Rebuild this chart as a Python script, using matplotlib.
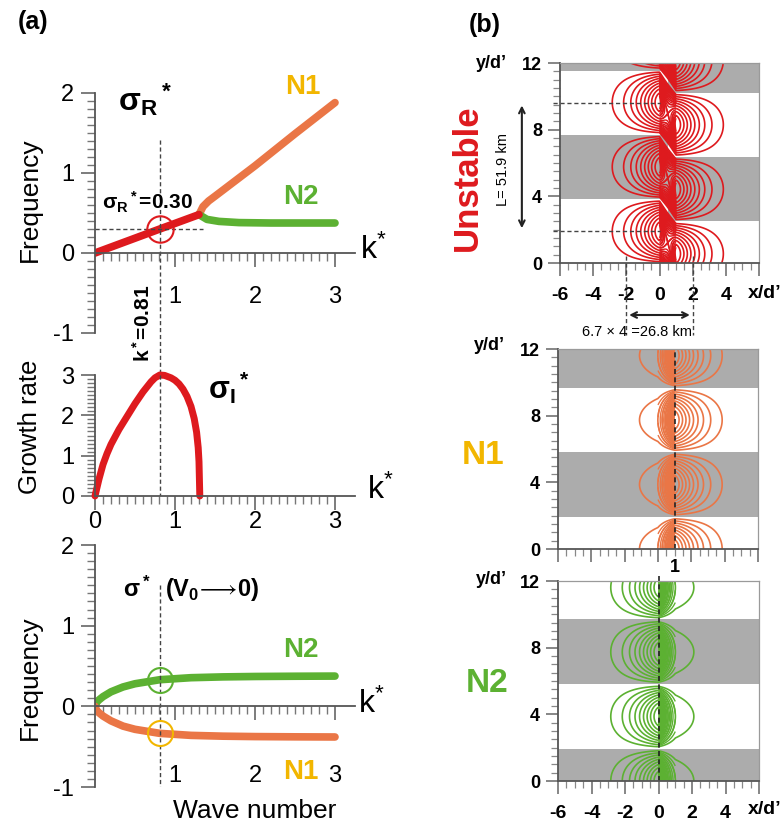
import numpy as np
import matplotlib
matplotlib.use('Agg')
import matplotlib.pyplot as plt
from matplotlib.ticker import FixedLocator

plt.rcParams['font.family'] = ['Liberation Sans', 'DejaVu Sans']
plt.rcParams['mathtext.fontset'] = 'custom'
plt.rcParams['mathtext.rm'] = 'Liberation Sans'
plt.rcParams['mathtext.it'] = 'Liberation Sans'
plt.rcParams['mathtext.bf'] = 'Liberation Sans:bold'
plt.rcParams['mathtext.fallback'] = 'stixsans'
plt.rcParams['axes.unicode_minus'] = False

RED = '#de1a1e'
ORANGE = '#ea7646'
GREEN = '#5cb132'
GOLD = '#f2b600'
BAND = '#acacac'
DASH = '#444444'

# ---- (a) dispersion curves ----
k_unstable = [0.0, 0.81, 1.30]
sr_unstable = [0.0, 0.30, 0.48]
k_n1 = [1.30, 1.35, 1.42, 1.50, 2.00, 2.50, 3.00]
sr_n1 = [0.48, 0.58, 0.65, 0.71, 1.09, 1.49, 1.88]
k_n2 = [1.30, 1.40, 1.55, 1.80, 2.20, 3.00]
sr_n2 = [0.48, 0.42, 0.395, 0.38, 0.375, 0.375]

k_growth = [0.0, 0.02, 0.05, 0.10, 0.15, 0.20, 0.30, 0.40, 0.50, 0.60, 0.70, 0.75,
            0.81, 0.87, 0.95, 1.00, 1.05, 1.10, 1.15, 1.20, 1.24, 1.27, 1.29, 1.30, 1.31]
si_growth = [0.0, 0.17, 0.42, 0.78, 1.05, 1.28, 1.65, 1.97, 2.29, 2.58, 2.83, 2.93,
             3.00, 2.99, 2.93, 2.87, 2.78, 2.65, 2.47, 2.22, 1.92, 1.58, 1.20, 0.85, 0.0]

k_v0 = [0.0, 0.02, 0.05, 0.10, 0.20, 0.35, 0.50, 0.81, 1.20, 1.60, 2.00, 2.50, 3.00]
n2_v0 = [0.0, 0.05, 0.08, 0.12, 0.18, 0.24, 0.28, 0.33, 0.355, 0.365, 0.37, 0.373, 0.375]
n1_v0 = [0.0, -0.05, -0.08, -0.12, -0.18, -0.245, -0.285, -0.335, -0.36, -0.37, -0.375, -0.378, -0.38]

k_max = 0.81
sr_max = 0.30

# ---- (b) mode structure ----
wavelength = 7.74          # y/d'
lobe_y_edge = 3.87         # lobe centre of N1 / N2
lobe_y_left = 1.90         # unstable mode, x < 0
lobe_y_right = 0.55        # unstable mode, x > 1
levels = [-0.9, -0.8, -0.7, -0.6, -0.5, -0.4, -0.3, -0.2, -0.1,
          0.1, 0.2, 0.3, 0.4, 0.5, 0.6, 0.7, 0.8, 0.9]
strip_levels = [-0.95, -0.9, -0.85, -0.8, -0.75, -0.7, -0.65, -0.6, -0.55, -0.5,
                -0.45, -0.4, -0.35, -0.3, -0.25, -0.2, -0.15,
                0.15, 0.2, 0.25, 0.3, 0.35, 0.4, 0.45, 0.5, 0.55, 0.6, 0.65,
                0.7, 0.75, 0.8, 0.85, 0.9, 0.95]
bands_unstable_left = [(3.84, 7.70), (11.52, 12.0)]
bands_unstable_right = [(2.52, 6.38), (10.22, 12.0)]
bands_n1 = [(1.92, 5.82), (9.66, 12.0)]
bands_n2 = [(0.0, 1.95), (5.82, 9.72)]
L_marks = [1.92, 9.62]

W, H = 783, 831
fig = plt.figure(figsize=(W / 100, H / 100), dpi=100)


def px_axes(l, t, r, b):
    return fig.add_axes([l / W, 1 - b / H, (r - l) / W, (b - t) / H])


def ftext(x, y, s, **kw):
    kw.setdefault('ha', 'center')
    kw.setdefault('va', 'center')
    return fig.text(x / W, 1 - y / H, s, **kw)


def style_a(ax, ylim, yticks, xticks, pad):
    ax.set_xlim(0, 3.25)
    ax.set_ylim(*ylim)
    ax.patch.set_alpha(0)
    for s in ('top', 'right'):
        ax.spines[s].set_visible(False)
    ax.spines['bottom'].set_position(('data', 0))
    for s in ('left', 'bottom'):
        ax.spines[s].set_color('#555555')
        ax.spines[s].set_linewidth(1.3)
    ax.set_yticks(yticks)
    ax.set_yticklabels([str(v) for v in yticks])
    ax.yaxis.set_minor_locator(FixedLocator(np.arange(ylim[0], ylim[1] + 0.01, 0.1)))
    ax.set_xticks(xticks)
    ax.set_xticklabels([str(v) for v in xticks])
    ax.xaxis.set_minor_locator(FixedLocator(np.arange(0.1, 3.01, 0.1)))
    ax.tick_params(which='major', direction='out', length=10, width=1.2,
                   color='#666666', labelsize=17)
    ax.tick_params(which='minor', direction='out', length=5.5, width=1.0,
                   color='#777777')
    ax.tick_params(axis='x', which='major', pad=pad)
    ax.tick_params(axis='y', which='major', pad=5)


# top: real part
ax1 = px_axes(95, 93, 355, 333)
style_a(ax1, (-1, 2), [-1, 0, 1, 2], [1, 2, 3], 14)
ax1.plot(k_n1, sr_n1, color=ORANGE, lw=5.5, solid_capstyle='round')
ax1.plot(k_n2, sr_n2, color=GREEN, lw=5.5, solid_capstyle='round')
ax1.plot(k_unstable, sr_unstable, color=RED, lw=5.5, solid_capstyle='round')
ax1.plot([0, 1.35], [sr_max, sr_max], ls=(0, (3, 2)), color=DASH, lw=1)
ax1.plot([k_max, k_max], [1.41, -1.525], ls=(0, (3, 2)), color=DASH, lw=1, clip_on=False)
ax1.plot([k_max], [sr_max], 'o', ms=19, mfc='none', mec=RED, mew=1.5)

# middle: growth rate
ax2 = px_axes(95, 375, 355, 496)
style_a(ax2, (0, 3), [0, 1, 2, 3], [0, 1, 2, 3], 1)
ax2.plot(k_growth, si_growth, color=RED, lw=5, solid_capstyle='round',
         solid_joinstyle='round', clip_on=False)
ax2.plot([k_max, k_max], [3, 0], ls=(0, (3, 2)), color=DASH, lw=1)

# bottom: V0 -> 0 limit
ax3 = px_axes(95, 545, 355, 787)
style_a(ax3, (-1, 2), [-1, 0, 1, 2], [1, 2, 3], 32)
ax3.plot(k_v0, n2_v0, color=GREEN, lw=5.5, solid_capstyle='round')
ax3.plot(k_v0, n1_v0, color=ORANGE, lw=5.5, solid_capstyle='round')
ax3.plot([k_max, k_max], [1.5, -1], ls=(0, (3, 2)), color=DASH, lw=1)
ax3.plot([k_max], [n2_v0[7]], 'o', ms=18, mfc='none', mec=GREEN, mew=1.5)
ax3.plot([k_max], [n1_v0[7]], 'o', ms=18, mfc='none', mec=GOLD, mew=1.5)

ftext(33, 22, '(a)', fontsize=18, fontweight='bold')
ftext(30, 200, 'Frequency', fontsize=19, rotation=90)
ftext(30, 427, 'Growth rate', fontsize=18.5, rotation=90)
ftext(30, 678, 'Frequency', fontsize=19, rotation=90)
ftext(255, 811, 'Wave number', fontsize=19)
ftext(360, 250, r'k$^{*}$', fontsize=23, ha='left')
ftext(367, 490, r'k$^{*}$', fontsize=23, ha='left')
ftext(358, 704, r'k$^{*}$', fontsize=23, ha='left')
ftext(145, 100, r'$\mathbf{σ_R{}^*}$', fontsize=23)
ftext(147, 202, r'$\mathbf{σ_R{}^*}$=0.30', fontsize=15, fontweight='bold')
ftext(303, 87, 'N1', fontsize=20, fontweight='bold', color=GOLD)
ftext(301, 197, 'N2', fontsize=20, fontweight='bold', color=GREEN)
ftext(229, 388, r'$\mathbf{σ_I{}^*}$', fontsize=22)
ftext(191, 589, r'$\mathbf{σ^*\ \ (V_0}\!\longrightarrow\!\mathbf{0)}$', fontsize=17)
ftext(301, 650, 'N2', fontsize=20, fontweight='bold', color=GREEN)
ftext(301, 772, 'N1', fontsize=20, fontweight='bold', color=GOLD)
ftext(143, 323, r'$\mathbf{k{}^*}$=0.81', fontsize=15, fontweight='bold', rotation=90)

# ---- (b) contour panels ----
xg = np.linspace(-6, 6, 601)
yg = np.linspace(0, 12, 601)
X, Y = np.meshgrid(xg, yg)
kw = 2 * np.pi / wavelength
in_strip = (X >= 0) & (X <= 1)


def outer(d):
    return np.exp(-(np.clip(d, 0, None) / 1.5) ** 1.3)


def edge_profile(x):
    # peak on x = 0, sharp drop across the strip 0 < x < 1
    inside = np.exp(-1.6 * np.clip(x, 0, 1))
    beyond = 0.2 * np.exp(-np.clip(x - 1, 0, None) / 1.6)
    return np.where(x <= 0, outer(-x), np.where(x <= 1, inside, beyond))


field_n2 = edge_profile(X) * np.cos(kw * (Y - lobe_y_edge))
field_n1 = edge_profile(1 - X) * np.cos(kw * (Y - lobe_y_edge))
amp = np.where(X < 0, outer(-X),
               np.where(X > 1, outer(X - 1), 1 - 0.3 * np.sin(np.pi * np.clip(X, 0, 1))))
y_shift = lobe_y_left - (lobe_y_left - lobe_y_right) * np.clip(X, 0, 1)
field_un = amp * np.cos(kw * (Y - y_shift))


def draw_mode(ax, field, color):
    ax.contour(X, Y, field, levels=levels, colors=color, linewidths=1.2,
               linestyles='solid')
    ax.contour(X, Y, np.where(in_strip, field, np.nan), levels=strip_levels,
               colors=color, linewidths=1.0, linestyles='solid')


def style_b(ax, xlabels):
    ax.set_xlim(-6, 6)
    ax.set_ylim(0, 12)
    for s in ('top', 'right'):
        ax.spines[s].set_color('#9a9a9a')
        ax.spines[s].set_linewidth(0.9)
    for s in ('left', 'bottom'):
        ax.spines[s].set_color('#555555')
        ax.spines[s].set_linewidth(1.3)
    ax.set_xticks([-6, -4, -2, 0, 2, 4, 6])
    ax.set_xticklabels(xlabels, fontweight='bold', fontsize=14)
    ax.xaxis.set_minor_locator(FixedLocator(np.arange(-6, 6.01, 0.5)))
    ax.set_yticks([0, 4, 8, 12])
    ax.set_yticklabels(['0', '4', '8', '12'], fontweight='bold', fontsize=13)
    ax.yaxis.set_minor_locator(FixedLocator(np.arange(0, 12.01, 0.5)))
    ax.tick_params(which='major', direction='out', length=9, width=1.1, color='#666666')
    ax.tick_params(which='minor', direction='out', length=5, width=0.9, color='#888888')
    ax.tick_params(axis='x', which='major', pad=8)
    ax.tick_params(axis='y', which='major', pad=4)


def bands(ax, spans, xmin=0.0, xmax=1.0):
    for y0, y1 in spans:
        ax.axhspan(y0, y1, xmin=xmin, xmax=xmax, color=BAND, lw=0, zorder=0)


xl_full = ['-6', '-4', '-2', '0', '2', '4', '']

# unstable mode
bx1 = px_axes(560, 63, 759, 263)
style_b(bx1, xl_full)
bands(bx1, bands_unstable_left, 0, 6.5 / 12)
bands(bx1, bands_unstable_right, 6.5 / 12, 1)
draw_mode(bx1, field_un, RED)
for yl in L_marks:
    bx1.plot([-6.4, 0], [yl, yl], ls=(0, (3, 2)), color=DASH, lw=1, clip_on=False)
for xv in (-2, 2):
    bx1.plot([xv, xv], [0.4, -4.3], ls=(0, (3, 2)), color=DASH, lw=1, clip_on=False)
bx1.annotate('', xy=(-8.3, L_marks[1]), xytext=(-8.3, L_marks[0]),
             arrowprops=dict(arrowstyle='<->', color='#222222', lw=1.5),
             annotation_clip=False)
bx1.annotate('', xy=(-2, -3.12), xytext=(2, -3.12),
             arrowprops=dict(arrowstyle='<->', color='#222222', lw=1.5),
             annotation_clip=False)

# N1 mode
bx2 = px_axes(558, 349, 758, 549)
style_b(bx2, [''] * 7)
bands(bx2, bands_n1)
draw_mode(bx2, field_n1, ORANGE)
bx2.plot([1, 1], [0, 12], ls=(0, (3, 2)), color='#222222', lw=1.2)
bx2.text(1, -1.1, '1', ha='center', va='center', fontsize=13, fontweight='bold')

# N2 mode
bx3 = px_axes(558, 581, 759, 781)
style_b(bx3, xl_full)
bands(bx3, bands_n2)
draw_mode(bx3, field_n2, GREEN)
bx3.plot([0, 0], [0, 12.4], ls=(0, (3, 2)), color='#222222', lw=1.2, clip_on=False)

ftext(485, 25, '(b)', fontsize=18, fontweight='bold')
ftext(491, 64, 'y/d’', fontsize=13, fontweight='bold')
ftext(489, 346, 'y/d’', fontsize=13, fontweight='bold')
ftext(491, 579, 'y/d’', fontsize=13, fontweight='bold')
ftext(748, 293, 'x/d’', fontsize=14, fontweight='bold', ha='left')
ftext(748, 810, 'x/d’', fontsize=14, fontweight='bold', ha='left')
ftext(467, 178, 'Unstable', fontsize=25, fontweight='bold', color=RED, rotation=90)
ftext(483, 455, 'N1', fontsize=24, fontweight='bold', color=GOLD)
ftext(487, 683, 'N2', fontsize=24, fontweight='bold', color=GREEN)
ftext(503, 170, 'L= 51.9 km', fontsize=10.5, rotation=90)
ftext(637, 332, '6.7 × 4 =26.8 km', fontsize=10.5)

fig.savefig('out.png', dpi=100)
